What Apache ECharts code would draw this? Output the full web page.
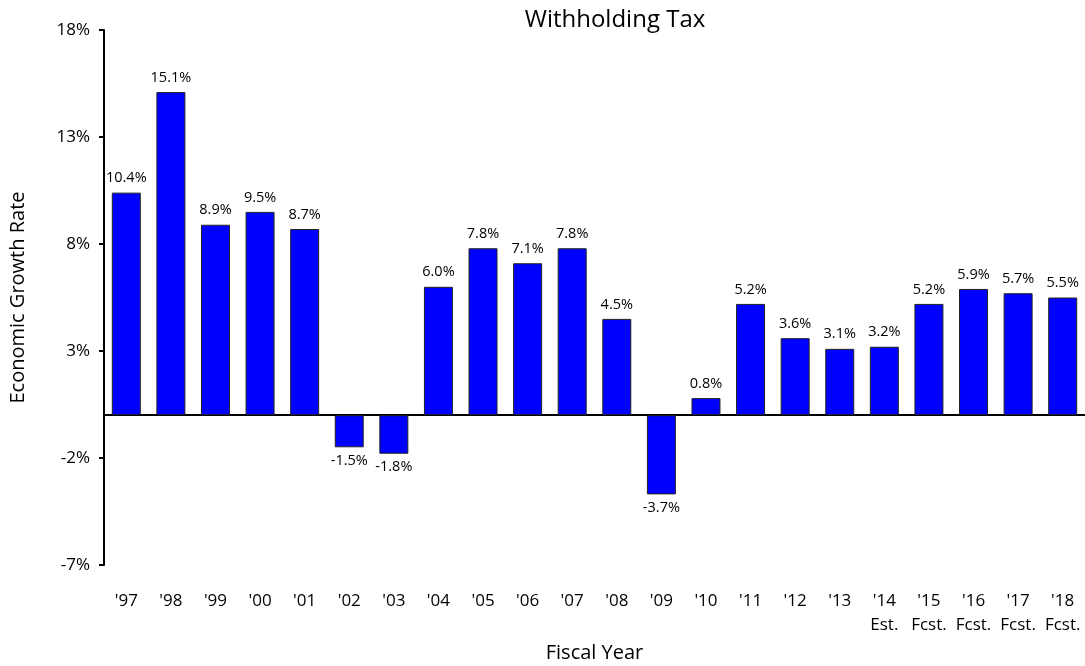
<!DOCTYPE html>
<html><head><meta charset="utf-8">
<script src="https://cdn.jsdelivr.net/npm/echarts@6/dist/echarts.min.js"></script>
<style>html,body{margin:0;padding:0;background:#fff}#c{width:1085px;height:666px}</style>
</head><body><div id="c"></div>
<script>
const categories = ["'97","'98","'99","'00","'01","'02","'03","'04","'05","'06","'07","'08","'09","'10","'11","'12","'13","'14\nEst.","'15\nFcst.","'16\nFcst.","'17\nFcst.","'18\nFcst."];
const growth = [10.4,15.1,8.9,9.5,8.7,-1.5,-1.8,6.0,7.8,7.1,7.8,4.5,-3.7,0.8,5.2,3.6,3.1,3.2,5.2,5.9,5.7,5.5];
const yTicks = [-7,-2,3,8,13,18];
const FONT = 'Open Sans';
const yMin = yTicks[0], yMax = yTicks[yTicks.length-1], yStep = yTicks[1]-yTicks[0];

const chart = echarts.init(document.getElementById('c'), null, {renderer:'canvas'});
chart.setOption({
  animation:false,
  textStyle:{fontFamily:FONT,color:'#000'},
  title:{text:'Withholding Tax',left:610,top:3,textAlign:'center',
    textStyle:{fontFamily:FONT,fontSize:24,fontWeight:'normal',color:'#000'}},
  grid:{left:104,right:0,top:30,bottom:101,containLabel:false,outerBoundsMode:'none'},
  xAxis:[
    {type:'category',data:categories,position:'bottom',
     axisLine:{onZero:true,onZeroAxisIndex:0,lineStyle:{color:'#000',width:2}},
     axisTick:{show:false},axisLabel:{show:false}},
    {type:'category',data:categories,position:'bottom',
     axisLine:{show:false,onZero:false},axisTick:{show:false},
     axisLabel:{margin:24,fontSize:17,lineHeight:24,color:'#000',fontFamily:FONT,interval:0},
     name:'Fiscal Year',nameLocation:'middle',nameGap:78,
     nameTextStyle:{fontSize:20,color:'#000',fontFamily:FONT}}
  ],
  yAxis:[
    {type:'value',min:yMin,max:yMax,show:false,splitLine:{show:false}},
    {type:'value',min:0,max:yMax-yMin,interval:yStep,position:'left',
     axisLine:{show:true,lineStyle:{color:'#000',width:2}},
     axisTick:{show:true,length:5,lineStyle:{color:'#000',width:2}},
     splitLine:{show:false},
     axisLabel:{fontSize:17,color:'#000',margin:14,fontFamily:FONT,
       formatter:v=>(v+yMin)+'%'},
     name:'Economic Growth Rate',nameLocation:'middle',nameGap:76,nameRotate:90,
     nameTextStyle:{fontSize:20,color:'#000',fontFamily:FONT}}
  ],
  series:[{
    type:'bar',xAxisIndex:0,yAxisIndex:0,
    data:growth.map(v=>v<0?{value:v,label:{position:'bottom',distance:6}}:v),
    barCategoryGap:'35%',
    itemStyle:{color:'#0000FF',borderColor:'#222',borderWidth:1},
    label:{show:true,fontSize:14.5,color:'#000',fontFamily:FONT,distance:7,
      position:'top',formatter:p=>p.value.toFixed(1)+'%'}
  }]
});
</script></body></html>
